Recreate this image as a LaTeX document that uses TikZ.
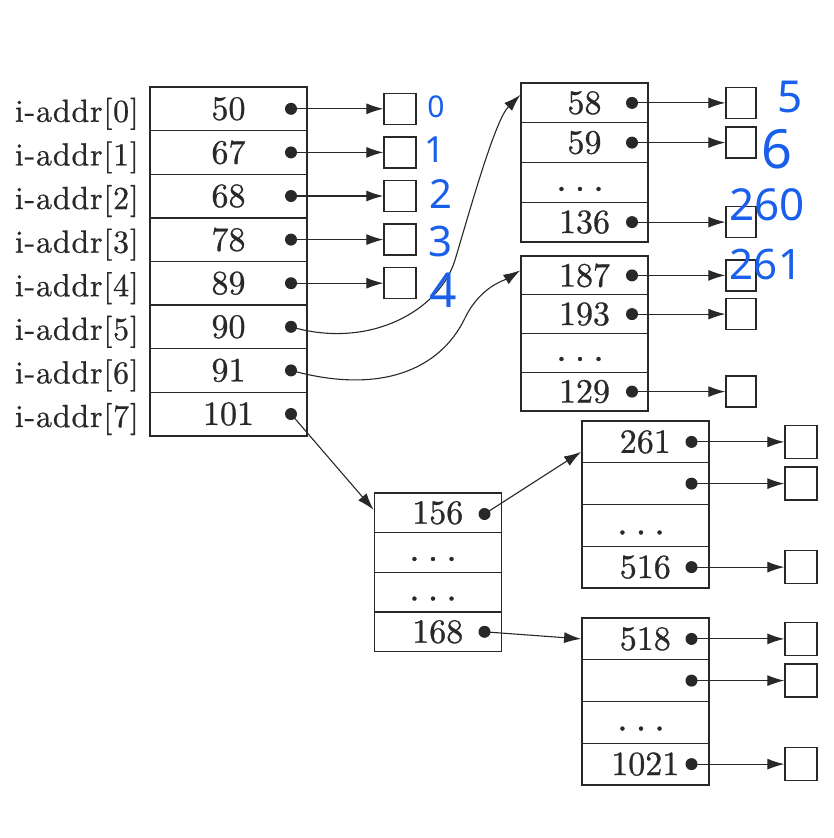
\documentclass[tikz,border=0pt]{standalone}
\usepackage{fontspec}
\newfontfamily\handfont{Noto Sans}
\newfontfamily\numfont{lmroman10-regular}[Extension=.otf, FakeBold=0.8]
\newfontfamily\labfont{lmroman10-regular}[Extension=.otf, FakeBold=0.6, LetterSpace=2.5]
\usetikzlibrary{arrows.meta}
\definecolor{ink}{RGB}{40,40,40}
\definecolor{handblue}{RGB}{25,95,235}
\begin{document}
\begin{tikzpicture}[x=1pt,y=-1pt,
  cell/.style={draw=ink, line width=1.4pt, rectangle, inner sep=0pt,
    minimum width=127pt, text=ink, font=\numfont\fontsize{34}{40}\selectfont},
  dotn/.style={circle, fill=ink, inner sep=0pt, minimum size=12pt},
  sbox/.style={draw=ink, line width=1.4pt, rectangle, inner sep=0pt,
    minimum width=31pt, minimum height=31pt},
  lab/.style={text=ink, inner sep=0pt, font=\labfont\fontsize{32}{40}\selectfont},
  ell/.style={text=ink, inner sep=0pt, anchor=base, font=\numfont\fontsize{38}{40}\selectfont},
  arr/.style={draw=ink, line width=1.1pt, -{Latex[length=17pt,width=11pt]}},
  hand/.style={text=handblue, inner sep=0pt},
]
\fill[white] (0,0) rectangle (834,838);
\useasboundingbox (0,0) rectangle (834,838);

% ---------- main table ----------
\foreach \t [count=\i from 0] in {50,67,68,78,89,90,91,101}{
  \node[cell, minimum width=157pt, minimum height=43.6pt] (m\i) at (228.5,{87+43.6*(\i+0.5)}) {\t};
  \node[dotn] (md\i) at (291,{87+43.6*(\i+0.5)}) {};
  \node[lab, anchor=base east] (ml\i) at (139,{87+43.6*(\i+0.5)+13}) {i-addr[\i]};
}
\foreach \i in {0,...,4}{
  \node[sbox, minimum width=32pt] (mb\i) at (400,{87+43.6*(\i+0.5)}) {};
  \draw[arr] (md\i.center) -- (mb\i.west);
}

% ---------- block A ----------
\node[cell, minimum height=39.75pt] (a0) at (584.5,102.9) {58};
\node[cell, minimum height=39.75pt] (a1) at (584.5,142.6) {59};
\node[cell, minimum height=39.75pt] (a2) at (584.5,182.4) {};
\node[cell, minimum height=39.75pt] (a3) at (584.5,222.1) {136};
\node[ell] (ae) at (580,191) {.\hspace{8pt}.\hspace{8pt}.};
\foreach \i/\y in {0/102.9,1/142.6,3/222.1}{
  \node[dotn] (ad\i) at (632,\y) {};
  \node[sbox, minimum width=30pt] (ab\i) at (741,\y) {};
  \draw[arr] (ad\i.center) -- (ab\i.west);
}

% ---------- block B ----------
\node[cell, minimum height=38.75pt] (b0) at (584.5,275.4) {187};
\node[cell, minimum height=38.75pt] (b1) at (584.5,314.1) {193};
\node[cell, minimum height=38.75pt] (b2) at (584.5,352.9) {};
\node[cell, minimum height=38.75pt] (b3) at (584.5,391.6) {129};
\node[ell] (be) at (580,361) {.\hspace{8pt}.\hspace{8pt}.};
\foreach \i/\y in {0/275.4,1/314.1,3/391.6}{
  \node[dotn] (bd\i) at (632,\y) {};
  \node[sbox, minimum width=30pt] (bb\i) at (741,\y) {};
  \draw[arr] (bd\i.center) -- (bb\i.west);
}

% ---------- block C ----------
\node[cell, minimum height=39.65pt] (c0) at (437.75,512.8) {156};
\node[cell, minimum height=39.65pt] (c1) at (437.75,552.5) {};
\node[cell, minimum height=39.65pt] (c2) at (437.75,592.1) {};
\node[cell, minimum height=39.65pt] (c3) at (437.75,631.8) {168};
\node[ell] (ce1) at (433,561) {.\hspace{8pt}.\hspace{8pt}.};
\node[ell] (ce2) at (433,600.6) {.\hspace{8pt}.\hspace{8pt}.};
\node[dotn] (cd0) at (484.5,514) {};
\node[dotn] (cd3) at (484.5,631.8) {};

% ---------- block D ----------
\node[cell, minimum height=41.75pt] (d0) at (645.3,441.9) {261};
\node[cell, minimum height=41.75pt] (d1) at (645.3,483.6) {};
\node[cell, minimum height=41.75pt] (d2) at (645.3,525.4) {};
\node[cell, minimum height=41.75pt] (d3) at (645.3,567.1) {516};
\node[ell] (de) at (641,534.5) {.\hspace{8pt}.\hspace{8pt}.};
\foreach \i/\y in {0/441.9,1/483.6,3/567.1}{
  \node[dotn] (dd\i) at (691.5,\y) {};
  \node[sbox, minimum width=32pt, minimum height=33pt] (db\i) at (801,\y) {};
  \draw[arr] (dd\i.center) -- (db\i.west);
}

% ---------- block E ----------
\node[cell, minimum height=41.75pt] (e0) at (645.3,638.9) {518};
\node[cell, minimum height=41.75pt] (e1) at (645.3,680.6) {};
\node[cell, minimum height=41.75pt] (e2) at (645.3,722.4) {};
\node[cell, minimum height=41.75pt] (e3) at (645.3,764.1) {1021\hspace{6pt}};
\node[ell] (ee) at (641,730.6) {.\hspace{8pt}.\hspace{8pt}.};
\foreach \i/\y in {0/638.9,1/680.6,3/764.1}{
  \node[dotn] (ed\i) at (691.5,\y) {};
  \node[sbox, minimum width=32pt, minimum height=33pt] (eb\i) at (801,\y) {};
  \draw[arr] (ed\i.center) -- (eb\i.west);
}

% ---------- connectors between tables ----------
\draw[arr] (md5.center) .. controls (370,350) and (440,310) .. (455,260)
  .. controls (470,210) and (495,120) .. ([yshift=8pt]a0.west);
\draw[arr] (md6.center) .. controls (380,395) and (440,370) .. (465,318)
  .. controls (480,286.8) and (505,280) .. ([yshift=5pt]b0.west);
\draw[arr] (md7.center) -- ([yshift=3pt]c0.west);
\draw[arr] (cd0.center) -- ([yshift=-10pt]d0.west);
\draw[arr] (cd3.center) -- (e0.west);

% ---------- handwritten annotations ----------
\node[hand, font=\handfont\bfseries\fontsize{30}{36}\selectfont] (h0) at (436,107) {0};
\node[hand, font=\handfont\bfseries\fontsize{36}{42}\selectfont] (h1) at (435,150) {1};
\node[hand, font=\handfont\bfseries\fontsize{40}{46}\selectfont] (h2) at (441,194) {2};
\node[hand, font=\handfont\bfseries\fontsize{42}{48}\selectfont] (h3) at (441,242) {3};
\node[hand, font=\handfont\bfseries\fontsize{48}{54}\selectfont] (h4) at (443,290) {4};
\node[hand, font=\handfont\bfseries\fontsize{44}{50}\selectfont] (h5) at (790,97) {5};
\node[hand, font=\handfont\bfseries\fontsize{54}{60}\selectfont] (h6) at (777,149) {6};
\node[hand, font=\handfont\bfseries\fontsize{44}{50}\selectfont] (h260) at (767,205) {260};
\node[hand, font=\handfont\bfseries\fontsize{42}{48}\selectfont] (h261) at (766,265) {261};
\end{tikzpicture}
\end{document}
